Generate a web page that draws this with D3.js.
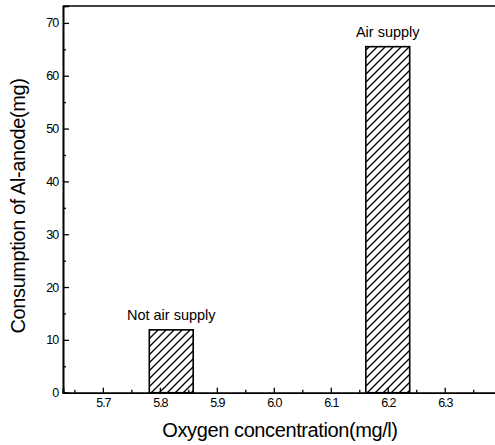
<!DOCTYPE html>
<html>
<head>
<meta charset="utf-8">
<script src="https://cdn.jsdelivr.net/npm/d3@7"></script>
<style>
  body { margin: 0; background: #fff; }
  svg { font-family: "Liberation Sans", Arial, sans-serif; }
</style>
</head>
<body>
<div id="chart"></div>
<script>
// data
const labels = ["Not air supply", "Air supply"];
const oxygen = [5.82, 6.2];
const consumption = [11.9, 65.5];
const barWidth = 0.077;
const xTicks = [5.7, 5.8, 5.9, 6.0, 6.1, 6.2, 6.3];
const yTicks = [0, 10, 20, 30, 40, 50, 60, 70];

const W = 495, H = 445;
const plot = { left: 63, top: 6, bottom: 392.7, right: 496 };

const svg = d3.select("#chart").append("svg")
    .attr("width", W).attr("height", H);

const x = d3.scaleLinear().domain([5.63, 6.39]).range([plot.left, plot.right]);
const y = d3.scaleLinear().domain([0, 73.2]).range([plot.bottom, plot.top]);

// hatch pattern
const defs = svg.append("defs");
const pat = defs.append("pattern")
    .attr("id", "hatch")
    .attr("patternUnits", "userSpaceOnUse")
    .attr("width", 8).attr("height", 8);
pat.append("rect").attr("width", 8).attr("height", 8).attr("fill", "#fff");
pat.append("path")
    .attr("d", "M-2,2 L2,-2 M0,8 L8,0 M6,10 L10,6")
    .attr("stroke", "#000").attr("stroke-width", 1.3);

// bars
svg.selectAll(".bar")
    .data(oxygen)
    .enter().append("rect")
    .attr("class", "bar")
    .attr("x", d => x(d - barWidth / 2))
    .attr("width", d => x(d + barWidth / 2) - x(d - barWidth / 2))
    .attr("y", (d, i) => y(consumption[i]))
    .attr("height", (d, i) => y(0) - y(consumption[i]))
    .attr("fill", "url(#hatch)")
    .attr("stroke", "#000")
    .attr("stroke-width", 1.6);

// bar labels
svg.selectAll(".blabel")
    .data(oxygen)
    .enter().append("text")
    .attr("x", d => x(d))
    .attr("y", (d, i) => y(consumption[i]) - 10)
    .attr("text-anchor", "middle")
    .attr("font-size", 14.5)
    .text((d, i) => labels[i]);

// axes with inward ticks
const xAxis = d3.axisTop(x).tickValues(xTicks).tickSize(5).tickFormat(d3.format(".1f"));
const xMinor = d3.axisTop(x).tickValues(d3.range(5.65, 6.39, 0.1)).tickSize(3).tickFormat("");
const yAxis = d3.axisRight(y).tickValues(yTicks).tickSize(6).tickFormat(d3.format("d"));
const yMinor = d3.axisRight(y).tickValues(d3.range(5, 73, 10)).tickSize(3).tickFormat("");

const gx = svg.append("g").attr("transform", `translate(0,${plot.bottom})`).call(xAxis);
svg.append("g").attr("transform", `translate(0,${plot.bottom})`).call(xMinor);
gx.selectAll("text").attr("y", 14).attr("dy", 0)
    .attr("font-size", 12.5).attr("letter-spacing", -1.1);

const gy = svg.append("g").attr("transform", `translate(${plot.left},0)`).call(yAxis);
svg.append("g").attr("transform", `translate(${plot.left},0)`).call(yMinor);
gy.selectAll("text").attr("x", -5).attr("text-anchor", "end")
    .attr("font-size", 12.5).attr("letter-spacing", -1.1);

svg.selectAll(".domain").attr("stroke-width", 1.6);
svg.selectAll(".tick line").attr("stroke-width", 1.3);
svg.selectAll(".tick text").attr("fill", "#000");

// top frame line
svg.append("line")
    .attr("x1", plot.left).attr("x2", plot.right)
    .attr("y1", plot.top).attr("y2", plot.top)
    .attr("stroke", "#000").attr("stroke-width", 1.6);

// axis titles
svg.append("text")
    .attr("x", 280).attr("y", 437)
    .attr("text-anchor", "middle")
    .attr("font-size", 20)
    .attr("letter-spacing", -0.4)
    .text("Oxygen concentration(mg/l)");

svg.append("text")
    .attr("transform", "translate(25,206) rotate(-90)")
    .attr("text-anchor", "middle")
    .attr("font-size", 20)
    .attr("letter-spacing", -0.4)
    .text("Consumption of Al-anode(mg)");
</script>
</body>
</html>
